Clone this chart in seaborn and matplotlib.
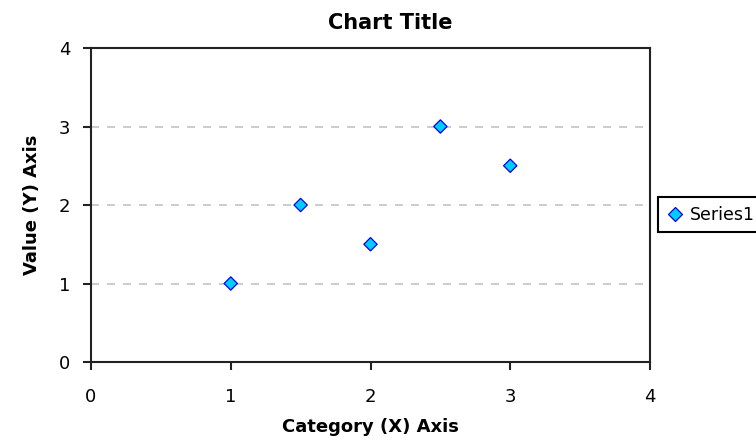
import matplotlib
matplotlib.use("Agg")
import matplotlib.pyplot as plt
import seaborn as sns
import pandas as pd

# Series values
x_values = [1.0, 1.5, 2.0, 2.5, 3.0]
y_values = [1.0, 2.0, 1.5, 3.0, 2.5]
series_name = "Series1"
x_ticks = [0, 1, 2, 3, 4]
y_ticks = [0, 1, 2, 3, 4]

df = pd.DataFrame({"x": x_values, "y": y_values, "series": series_name})

sns.set_theme(style="white")
plt.rcParams["font.family"] = ["DejaVu Sans"]
plt.rcParams["text.color"] = "black"
plt.rcParams["axes.labelcolor"] = "black"
plt.rcParams["xtick.color"] = "#222222"
plt.rcParams["ytick.color"] = "#222222"
plt.rcParams["xtick.labelcolor"] = "black"
plt.rcParams["ytick.labelcolor"] = "black"

W, H = 756, 448
fig = plt.figure(figsize=(W / 100, H / 100), dpi=100)
# plot area in pixels: x 91..650, y 48..362 (from top)
ax = fig.add_axes([91 / W, 1 - 362 / H, (650 - 91) / W, (362 - 48) / H])

sns.scatterplot(data=df, x="x", y="y", hue="series", palette=["#00ccff"],
                marker="D", s=46, edgecolor="#0000ee", linewidth=0.9,
                ax=ax, legend=True, zorder=3)

ax.set_xlim(0, 4)
ax.set_ylim(0, 4)
ax.set_xticks(x_ticks)
ax.set_yticks(y_ticks)
ax.set_xticklabels([str(t) for t in x_ticks], fontsize=13)
ax.set_yticklabels([str(t) for t in y_ticks], fontsize=13)

# dashed horizontal gridlines at the interior ticks
for yv in y_ticks[1:-1]:
    ax.axhline(yv, color="#c4c4c4", linestyle=(0, (4.8, 4.8)), linewidth=1.2, zorder=1)

for s in ax.spines.values():
    s.set_color("#222222")
    s.set_linewidth(1.5)
ax.tick_params(axis="x", direction="out", length=5.8, width=1.5, bottom=True, pad=13)
ax.tick_params(axis="y", direction="out", length=5.8, width=1.5, left=True, pad=9)

ax.set_title("Chart Title", fontsize=15, fontweight="bold", pad=13.5,
             x=(390 - 91) / 559)
ax.set_xlabel("Category (X) Axis", fontsize=13, fontweight="bold")
ax.set_ylabel("Value (Y) Axis", fontsize=13, fontweight="bold")
ax.xaxis.set_label_coords(0.5, -(418 - 362) / 314)
ax.yaxis.set_label_coords((41 - 91) / 559, 0.5)

handles, labels = ax.get_legend_handles_labels()
leg = ax.legend(handles=handles, labels=[series_name], loc="upper left",
                bbox_to_anchor=(658 / W, 1 - 197 / H), bbox_transform=fig.transFigure,
                frameon=True, fancybox=False, edgecolor="black", fontsize=12.5,
                handletextpad=0.35, borderpad=0.5, handlelength=1.0,
                borderaxespad=0, framealpha=1)
leg.get_frame().set_linewidth(1.5)

fig.savefig("out.png", dpi=100)
